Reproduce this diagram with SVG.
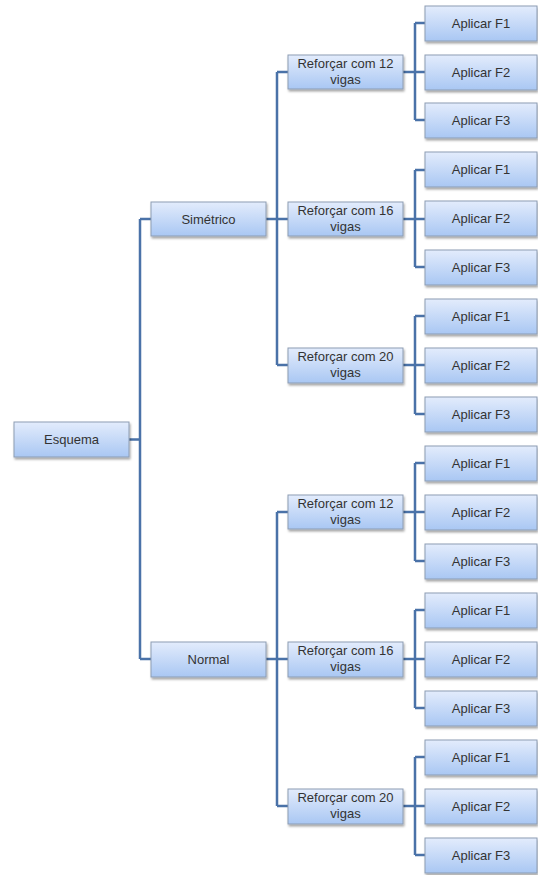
<svg xmlns="http://www.w3.org/2000/svg" width="538" height="875" viewBox="0 0 538 875">
<defs>
<linearGradient id="g" x1="0" y1="0" x2="0" y2="1">
<stop offset="0" stop-color="#e3ecfc"/>
<stop offset="1" stop-color="#a9c7f3"/>
</linearGradient>
<filter id="sh" x="-10%" y="-20%" width="130%" height="160%">
<feDropShadow dx="1" dy="2" stdDeviation="1.2" flood-color="#000" flood-opacity="0.35"/>
</filter>
</defs>
<style>
.b{fill:url(#g);stroke:#8d9db3;stroke-width:1;filter:url(#sh)}
.t{font-family:"Liberation Sans",Arial,sans-serif;font-size:13px;fill:#333;text-anchor:middle}
.c{fill:none;stroke:#4a72a8;stroke-width:2.5}
</style>
<rect width="538" height="875" fill="#fff"/>
<g id="connectors" class="c">
<path d="M129 439.5H140M140 219V659M140 219H151M140 659H151"/>
<path d="M266 219H277M277 72V365M277 72H288M277 219H288M277 365H288"/>
<path d="M266 659H277M277 512V806M277 512H288M277 659H288M277 806H288"/>
<path d="M403 72H425M415 23V120M415 23H425M415 120H425"/>
<path d="M403 219H425M415 170V267M415 170H425M415 267H425"/>
<path d="M403 365H425M415 316V414M415 316H425M415 414H425"/>
<path d="M403 512H425M415 463V561M415 463H425M415 561H425"/>
<path d="M403 659H425M415 610V708M415 610H425M415 708H425"/>
<path d="M403 806H425M415 757V855M415 757H425M415 855H425"/>
</g>
<g id="esquema"><rect class="b" x="14" y="422" width="115" height="35"/><text class="t" x="71.5" y="444">Esquema</text></g>
<g id="simetrico"><rect class="b" x="151" y="202" width="115" height="34"/><text class="t" x="208.5" y="224">Simétrico</text></g>
<g id="normal"><rect class="b" x="151" y="642" width="115" height="35"/><text class="t" x="208.5" y="664">Normal</text></g>
<g id="s12"><rect class="b" x="288" y="55" width="115" height="34"/><text class="t" x="345.5" y="68">Reforçar com 12</text><text class="t" x="345.5" y="84">vigas</text></g>
<g id="s16"><rect class="b" x="288" y="202" width="115" height="34"/><text class="t" x="345.5" y="215">Reforçar com 16</text><text class="t" x="345.5" y="231">vigas</text></g>
<g id="s20"><rect class="b" x="288" y="348" width="115" height="35"/><text class="t" x="345.5" y="361">Reforçar com 20</text><text class="t" x="345.5" y="377">vigas</text></g>
<g id="n12"><rect class="b" x="288" y="495" width="115" height="34"/><text class="t" x="345.5" y="508">Reforçar com 12</text><text class="t" x="345.5" y="524">vigas</text></g>
<g id="n16"><rect class="b" x="288" y="642" width="115" height="35"/><text class="t" x="345.5" y="655">Reforçar com 16</text><text class="t" x="345.5" y="671">vigas</text></g>
<g id="n20"><rect class="b" x="288" y="789" width="115" height="35"/><text class="t" x="345.5" y="802">Reforçar com 20</text><text class="t" x="345.5" y="818">vigas</text></g>
<g id="s12f1"><rect class="b" x="425" y="6" width="112" height="35"/><text class="t" x="481" y="28">Aplicar F1</text></g>
<g id="s12f2"><rect class="b" x="425" y="55" width="112" height="35"/><text class="t" x="481" y="77">Aplicar F2</text></g>
<g id="s12f3"><rect class="b" x="425" y="103" width="112" height="35"/><text class="t" x="481" y="125">Aplicar F3</text></g>
<g id="s16f1"><rect class="b" x="425" y="152" width="112" height="35"/><text class="t" x="481" y="174">Aplicar F1</text></g>
<g id="s16f2"><rect class="b" x="425" y="201" width="112" height="35"/><text class="t" x="481" y="223">Aplicar F2</text></g>
<g id="s16f3"><rect class="b" x="425" y="250" width="112" height="35"/><text class="t" x="481" y="272">Aplicar F3</text></g>
<g id="s20f1"><rect class="b" x="425" y="299" width="112" height="35"/><text class="t" x="481" y="321">Aplicar F1</text></g>
<g id="s20f2"><rect class="b" x="425" y="348" width="112" height="35"/><text class="t" x="481" y="370">Aplicar F2</text></g>
<g id="s20f3"><rect class="b" x="425" y="397" width="112" height="35"/><text class="t" x="481" y="419">Aplicar F3</text></g>
<g id="n12f1"><rect class="b" x="425" y="446" width="112" height="35"/><text class="t" x="481" y="468">Aplicar F1</text></g>
<g id="n12f2"><rect class="b" x="425" y="495" width="112" height="35"/><text class="t" x="481" y="517">Aplicar F2</text></g>
<g id="n12f3"><rect class="b" x="425" y="544" width="112" height="35"/><text class="t" x="481" y="566">Aplicar F3</text></g>
<g id="n16f1"><rect class="b" x="425" y="593" width="112" height="35"/><text class="t" x="481" y="615">Aplicar F1</text></g>
<g id="n16f2"><rect class="b" x="425" y="642" width="112" height="35"/><text class="t" x="481" y="664">Aplicar F2</text></g>
<g id="n16f3"><rect class="b" x="425" y="691" width="112" height="35"/><text class="t" x="481" y="713">Aplicar F3</text></g>
<g id="n20f1"><rect class="b" x="425" y="740" width="112" height="35"/><text class="t" x="481" y="762">Aplicar F1</text></g>
<g id="n20f2"><rect class="b" x="425" y="789" width="112" height="35"/><text class="t" x="481" y="811">Aplicar F2</text></g>
<g id="n20f3"><rect class="b" x="425" y="838" width="112" height="35"/><text class="t" x="481" y="860">Aplicar F3</text></g>
</svg>
